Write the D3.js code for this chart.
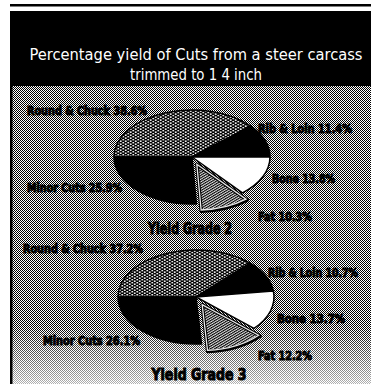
<!DOCTYPE html>
<html><head><meta charset="utf-8">
<script src="https://cdn.jsdelivr.net/npm/d3@7"></script>
<style>html,body{margin:0;padding:0;background:#fff;}svg{display:block;}</style>
</head><body>
<svg id="chart" width="371" height="384"></svg>
<script>
const categories = ["Round & Chuck", "Rib & Loin", "Bone", "Fat", "Minor Cuts"];
const grade2 = [38.6, 11.4, 13.8, 10.3, 25.9];
const grade3 = [37.2, 10.7, 13.7, 12.2, 26.1];
const gradeTitles = ["Yield Grade 2", "Yield Grade 3"];
const titleLines = ["Percentage yield of Cuts from a steer carcass", "trimmed to 1 4 inch"];

const W = 371, H = 384;
const svg = d3.select("#chart");
const defs = svg.append("defs");

// dither background pattern
const dp = defs.append("pattern").attr("id","dither").attr("patternUnits","userSpaceOnUse").attr("width",2).attr("height",2);
dp.append("rect").attr("width",2).attr("height",2).attr("fill","#fff");
dp.append("rect").attr("x",0).attr("y",0).attr("width",1).attr("height",1).attr("fill","#000");
dp.append("rect").attr("x",1).attr("y",1).attr("width",1).attr("height",1).attr("fill","#000");

// crosshatch (white dots on black)
const cp = defs.append("pattern").attr("id","cross").attr("patternUnits","userSpaceOnUse").attr("width",5).attr("height",5);
cp.append("rect").attr("width",5).attr("height",5).attr("fill","#000");
cp.append("circle").attr("cx",1.25).attr("cy",1.25).attr("r",1.1).attr("fill","#fff");
cp.append("circle").attr("cx",3.75).attr("cy",3.75).attr("r",1.1).attr("fill","#fff");

// diagonal hatch
const hp = defs.append("pattern").attr("id","hatch").attr("patternUnits","userSpaceOnUse").attr("width",3).attr("height",3).attr("patternTransform","rotate(45)");
hp.append("rect").attr("width",3).attr("height",3).attr("fill","#e0e0e0");
hp.append("rect").attr("width",1.5).attr("height",3).attr("fill","#000");

const fade = defs.append("linearGradient").attr("id","fade").attr("x1",0).attr("y1",0).attr("x2",0).attr("y2",1);
fade.append("stop").attr("offset","0").attr("stop-color","#fff").attr("stop-opacity",0);
fade.append("stop").attr("offset","1").attr("stop-color","#fff").attr("stop-opacity",0.7);

// frame
svg.append("rect").attr("x",10).attr("y",4).attr("width",W-10).attr("height",2.5).attr("fill","#000");
svg.append("rect").attr("x",10).attr("y",11).attr("width",W-10).attr("height",75).attr("fill","#000");
svg.append("rect").attr("x",12).attr("y",86).attr("width",W-12).attr("height",H-86).attr("fill","url(#dither)");
svg.append("rect").attr("x",12).attr("y",325).attr("width",W-12).attr("height",H-325).attr("fill","url(#fade)");
svg.append("rect").attr("x",10).attr("y",86).attr("width",2.5).attr("height",H-86).attr("fill","#000");

// title
const titleY = [60, 80], titleW = [333, 132];
titleLines.forEach((t,i)=>{
  svg.append("text").attr("x",196).attr("y",titleY[i]).attr("text-anchor","middle")
    .attr("fill","#fff").attr("font-family","'Liberation Sans Narrow','DejaVu Sans Condensed',sans-serif")
    .attr("font-size",16.5).attr("textLength",titleW[i]).attr("lengthAdjust","spacingAndGlyphs").text(t);
});

const fills = ["url(#cross)", "#000", "#fff", "url(#hatch)", "#000"];
const pie = d3.pie().sort(null).value(d=>d).startAngle(-Math.PI/2).endAngle(3*Math.PI/2);
const RX = 78;
const arc = d3.arc().innerRadius(0).outerRadius(RX);

const pies = [
  {vals: grade2, cx: 192, cy: 157, ry: 47, explode: 13,
   labels: [[27,115,120],[258,133,94],[272,183,63],[258,221,54],[27,192,95]],
   title: [190,234,84]},
  {vals: grade3, cx: 196, cy: 297, ry: 47, explode: 14,
   labels: [[23,253,120],[268,277,90],[277,323,68],[258,360,54],[43,345,97]],
   title: [199,380,95]}
];

const labelFont = "'Liberation Sans Narrow','DejaVu Sans Condensed',sans-serif";

pies.forEach((p,pi)=>{
  const k = p.ry/RX;
  const g = svg.append("g").attr("transform",`translate(${p.cx},${p.cy}) scale(1,${k})`);
  const arcs = pie(p.vals);
  arcs.forEach((a,i)=>{
    let dx=0, dy=0;
    if (i===3){ const m=(a.startAngle+a.endAngle)/2; dx=p.explode*Math.sin(m); dy=-p.explode*Math.cos(m); }
    g.append("path").attr("d",arc(a)).attr("transform",`translate(${dx},${dy})`)
      .attr("fill",fills[i]).attr("stroke","#000").attr("stroke-width",i===3?3.5:1.5)
      .attr("vector-effect","non-scaling-stroke").attr("stroke-linejoin","round");
    if (i===3){
      g.append("path").attr("d",d3.arc().innerRadius(0).outerRadius(RX-2)(a)).attr("transform",`translate(${dx},${dy})`)
        .attr("fill","none").attr("stroke","#e8e8e8").attr("stroke-width",1.3).attr("vector-effect","non-scaling-stroke");
    }
  });
  p.vals.forEach((v,i)=>{
    const [x,y,w] = p.labels[i];
    svg.append("text").attr("x",x).attr("y",y)
      .attr("font-family",labelFont).attr("font-weight","bold")
      .attr("font-size",12).attr("fill","#000").attr("stroke","#000").attr("stroke-width",1)
      .attr("textLength",w).attr("lengthAdjust","spacingAndGlyphs")
      .text(`${categories[i]} ${v.toFixed(1)}%`);
  });
  const [tx,ty,tw] = p.title;
  svg.append("text").attr("x",tx).attr("y",ty).attr("text-anchor","middle")
    .attr("font-family",labelFont).attr("font-weight","bold")
    .attr("font-size",16).attr("fill","#000").attr("stroke","#000").attr("stroke-width",1)
    .attr("textLength",tw).attr("lengthAdjust","spacingAndGlyphs").text(gradeTitles[pi]);
});
</script>
</body></html>
